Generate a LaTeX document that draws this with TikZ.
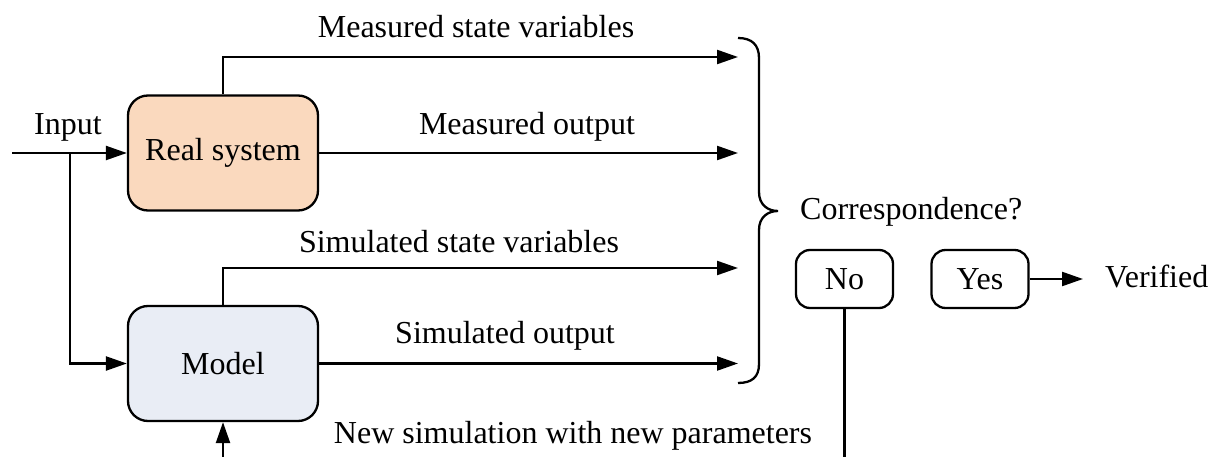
\documentclass[tikz,border=0pt]{standalone}
\usepackage{fontspec}
\setmainfont{Liberation Serif}
\usetikzlibrary{arrows.meta}
\definecolor{peach}{RGB}{250,217,190}
\definecolor{paleblue}{RGB}{233,237,245}
\begin{document}
\begin{tikzpicture}[x=1pt,y=-1pt,
  every node/.style={font=\fontsize{32}{38}\selectfont, inner sep=0pt},
  blk/.style={draw, line width=2.3pt, rounded corners=20pt, minimum width=190pt, minimum height=115pt},
  sbox/.style={draw, line width=2.3pt, rounded corners=14pt, minimum width=97pt, minimum height=58pt},
  conn/.style={line width=2.3pt, -{Triangle[length=21pt,width=14pt]}},
  wire/.style={line width=2.3pt},
  lbl/.style={anchor=base}]
\useasboundingbox (0,0) rectangle (1218,457);
% blocks
\node[blk, fill=peach] (real) at (223,153) {Real system};
\node[blk, fill=paleblue] (model) at (223,363.5) {Model};
\node[sbox] (no) at (844.5,279) {No};
\node[sbox] (yes) at (980,279) {Yes};
% coordinates
\coordinate (in) at (12,153);
\coordinate (br) at (70,153);
\coordinate (t1) at (738,57);
\coordinate (t2) at (738,153);
\coordinate (t3) at (738,268);
\coordinate (t4) at (738,363.5);
\coordinate (ver) at (1083,279);
\coordinate (nobot) at (844.5,457);
\coordinate (mbot) at (223,457);
% connectors
\draw[conn] (in) -- (real.west);
\draw[conn] (br) |- (model.west);
\draw[conn] (real.north) |- (t1);
\draw[conn] (real.east) -- (t2);
\draw[conn] (model.north) |- (t3);
\draw[conn] (model.east) -- (t4);
\draw[conn] (yes.east) -- (ver);
\draw[wire] (no.south) -- (nobot);
\draw[conn] (mbot) -- (model.south);
% brace
\draw[wire] (738,38) .. controls (752,38) and (759,45) .. (759,58) -- (759,192)
  .. controls (759,205) and (768,211) .. (778,211)
  .. controls (768,211) and (759,217) .. (759,230) -- (759,364)
  .. controls (759,377) and (752,383) .. (738,383);
% labels
\node[lbl] (linput) at (68,135) {Input};
\node[lbl] (lmsv) at (476,38) {Measured state variables};
\node[lbl] (lmo) at (527,135) {Measured output};
\node[lbl] (lssv) at (459,252) {Simulated state variables};
\node[lbl] (lso) at (505,343) {Simulated output};
\node[lbl] (lnew) at (573,443) {New simulation with new parameters};
\node[lbl, anchor=base west] (lcor) at (800,220) {Correspondence?};
\node[lbl, anchor=base west] (lver) at (1105,287) {Verified};
\end{tikzpicture}
\end{document}
